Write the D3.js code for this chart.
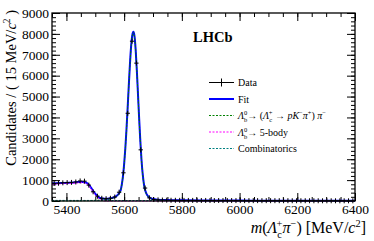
<!DOCTYPE html>
<html>
<head>
<meta charset="utf-8">
<script src="https://cdn.jsdelivr.net/npm/d3@7"></script>
<style>
  body { margin: 0; background: #fff; }
  text { font-family: "Liberation Serif", "Times New Roman", serif; }
</style>
</head>
<body>
<div id="chart"></div>
<script>
// histogram: 70 bins of 15 MeV from 5350 to 6400
const binLow = 5350;
const binWidth = 15;
const dataCounts = [
    840, 850, 870, 880, 890, 910, 960, 950, 760, 440,
    230, 130, 110, 130, 190, 420, 1350, 4200, 7650, 6600,
    2450, 620, 150, 70, 55, 45, 40, 35, 33, 30,
    28, 27, 29, 25, 24, 26, 23, 22, 24, 21,
    20, 22, 19, 20, 18, 19, 17, 18, 16, 17,
    15, 16, 15, 14, 15, 13, 14, 12, 13, 12,
    11, 12, 11, 10, 11, 10, 9, 10, 9, 9
];

// fit curves
const fitMass = [
    5350, 5380, 5410, 5440, 5455, 5465, 5475, 5485, 5495, 5505,
    5512, 5520, 5530, 5540, 5550, 5560, 5570, 5578, 5584, 5588,
    5592, 5596, 5600, 5604, 5608, 5612, 5616, 5620, 5624, 5628,
    5632, 5636, 5640, 5644, 5648, 5652, 5656, 5660, 5664, 5668,
    5672, 5678, 5685, 5695, 5710, 5730, 5760, 5800, 5900, 6000,
    6100, 6200, 6300, 6400
];
const fitTotal = [
    845, 860, 875, 905, 915, 895, 815, 640, 430, 270,
    180, 130, 110, 105, 120, 150, 205, 295, 410, 520,
    800, 1190, 1770, 2500, 3400, 4430, 5500, 6530, 7380, 7920,
    8100, 7880, 7220, 6250, 5110, 3950, 2890, 2000, 1330, 860,
    560, 330, 190, 115, 75, 52, 40, 32, 24, 19,
    16, 13, 11, 10
];
const fitSignal = [
    5, 6, 7, 10, 12, 14, 17, 22, 28, 35,
    40, 55, 70, 80, 96, 127, 183, 273, 388, 498,
    778, 1168, 1748, 2478, 3378, 4408, 5478, 6508, 7358, 7898,
    8078, 7858, 7198, 6228, 5088, 3928, 2868, 1978, 1308, 838,
    538, 309, 169, 94, 55, 33, 22, 15, 8, 5,
    4, 2, 2, 1
];
const bodyMass = [5350, 5380, 5410, 5440, 5455, 5465, 5475, 5485, 5495, 5505, 5512, 5520, 5528, 5535, 6400];
const bodyVal  = [810, 825, 840, 868, 876, 855, 773, 594, 378, 211, 116, 51, 12, 0, 0];
const combMass = [5350, 5500, 5650, 5800, 6000, 6200, 6400];
const combVal  = [30, 26, 22, 17, 14, 11, 9];

const xTicks = [5400, 5600, 5800, 6000, 6200, 6400];
const yTicks = [0, 1000, 2000, 3000, 4000, 5000, 6000, 7000, 8000, 9000];

const legendLabels = [
    [["Data", ""]],
    [["Fit", ""]],
    [["Λ", "i"], ["b", "sub"], ["0", "over"], ["→ (", ""], ["Λ", "i"], ["c", "sub"], ["+", "over"],
     [" → ", ""], ["pK", "i"], ["−", "sup"], ["π", "i"], ["+", "sup"], [") ", ""], ["π", "i"], ["−", "sup"]],
    [["Λ", "i"], ["b", "sub"], ["0", "over"], ["→ 5-body", ""]],
    [["Combinatorics", ""]]
];
const legendColors = ["#000", "#0000ff", "#008000", "#ff00ff", "#008080"];

const width = 374;
const height = 241;
const margin = { top: 13, right: 19, bottom: 40, left: 52 };

const svg = d3.select("#chart")
    .append("svg")
    .attr("width", width)
    .attr("height", height);

const x = d3.scaleLinear()
    .domain([binLow, binLow + binWidth * dataCounts.length])
    .range([margin.left, width - margin.right]);

const y = d3.scaleLinear()
    .domain([0, 9000])
    .range([height - margin.bottom, margin.top]);

// text with ROOT-like sub/superscripts
const richText = (sel, segs, fs) => {
    let shift = 0;
    segs.forEach(([t, kind]) => {
        const small = kind === "sub" || kind === "sup" || kind === "over";
        const target = kind === "sub" ? fs * 0.3 : (kind === "sup" || kind === "over") ? -fs * 0.4 : 0;
        const ts = sel.append("tspan")
            .attr("dy", target - shift)
            .attr("font-size", small ? fs * 0.65 : fs)
            .attr("font-style", kind === "i" ? "italic" : "normal")
            .text(t);
        if (kind === "over") ts.attr("dx", -fs * 0.33);
        shift = target;
    });
};

const styleAxis = (g, labels) => {
    g.select(".domain").remove();
    g.selectAll("line").attr("stroke", "#000").attr("stroke-width", 1);
    g.selectAll("text")
        .attr("font-size", 13.5)
        .attr("fill", "#000")
        .style("display", labels ? null : "none");
};

const xMinor = d3.range(5350, 6401, 50);
const yMinor = d3.range(0, 9001, 200);
const bottomY = height - margin.bottom;
const rightX = width - margin.right;

// minor ticks
svg.append("g").attr("transform", `translate(0,${bottomY})`)
    .call(d3.axisBottom(x).tickValues(xMinor).tickSize(-4).tickFormat(""))
    .call(g => styleAxis(g, false));
svg.append("g").attr("transform", `translate(0,${margin.top})`)
    .call(d3.axisTop(x).tickValues(xMinor).tickSize(-4).tickFormat(""))
    .call(g => styleAxis(g, false));
svg.append("g").attr("transform", `translate(${margin.left},0)`)
    .call(d3.axisLeft(y).tickValues(yMinor).tickSize(-4).tickFormat(""))
    .call(g => styleAxis(g, false));
svg.append("g").attr("transform", `translate(${rightX},0)`)
    .call(d3.axisRight(y).tickValues(yMinor).tickSize(-4).tickFormat(""))
    .call(g => styleAxis(g, false));

// major ticks
svg.append("g").attr("transform", `translate(0,${bottomY})`)
    .call(d3.axisBottom(x).tickValues(xTicks).tickSize(-8).tickPadding(3).tickFormat(d3.format("d")))
    .call(g => styleAxis(g, true));
svg.append("g").attr("transform", `translate(0,${margin.top})`)
    .call(d3.axisTop(x).tickValues(xTicks).tickSize(-8).tickFormat(""))
    .call(g => styleAxis(g, false));
svg.append("g").attr("transform", `translate(${margin.left},0)`)
    .call(d3.axisLeft(y).tickValues(yTicks).tickSize(-8).tickPadding(3).tickFormat(d3.format("d")))
    .call(g => styleAxis(g, true));
svg.append("g").attr("transform", `translate(${rightX},0)`)
    .call(d3.axisRight(y).tickValues(yTicks).tickSize(-8).tickFormat(""))
    .call(g => styleAxis(g, false));

// curves
const plot = svg.append("g");
const curve = (xs, ys, color, w, dash) => {
    const line = d3.line()
        .x(d => x(d[0]))
        .y(d => y(d[1]))
        .curve(d3.curveMonotoneX);
    plot.append("path")
        .attr("d", line(d3.zip(xs, ys)))
        .attr("fill", "none")
        .attr("stroke", color)
        .attr("stroke-width", w)
        .attr("stroke-dasharray", dash);
};
curve(fitMass, fitTotal, legendColors[1], 2, null);
curve(fitMass, fitSignal, legendColors[2], 1, "2,1.5");
curve(bodyMass, bodyVal, legendColors[3], 1, "2,1.5");
curve(combMass, combVal, legendColors[4], 1, "2,1.5");

// data points
const bins = dataCounts.map((c, i) => ({ lo: binLow + i * binWidth, hi: binLow + (i + 1) * binWidth, c }));
const pts = plot.selectAll(".pt").data(bins).enter().append("g").attr("class", "pt");
pts.append("line")
    .attr("x1", d => x(d.lo)).attr("x2", d => x(d.hi))
    .attr("y1", d => y(d.c)).attr("y2", d => y(d.c))
    .attr("stroke", "#000").attr("stroke-width", 1);
pts.append("line")
    .attr("x1", d => x((d.lo + d.hi) / 2)).attr("x2", d => x((d.lo + d.hi) / 2))
    .attr("y1", d => Math.min(y(d.c + Math.sqrt(d.c)), y(d.c) - 2.5))
    .attr("y2", d => Math.max(y(d.c - Math.sqrt(d.c)), y(d.c) + 2.5))
    .attr("stroke", "#000").attr("stroke-width", 1);

// frame
svg.append("rect")
    .attr("x", margin.left).attr("y", margin.top)
    .attr("width", rightX - margin.left).attr("height", bottomY - margin.top)
    .attr("fill", "none").attr("stroke", "#000").attr("stroke-width", 1.3);

// LHCb label
svg.append("text")
    .attr("x", 193).attr("y", 42)
    .attr("font-size", 14.5).attr("font-weight", "bold")
    .text("LHCb");

// legend
const legendX = 209;
const legendRows = [82.5, 99, 115.5, 132, 148.5];
const lg = svg.append("g");
legendLabels.forEach((segs, i) => {
    const ly = legendRows[i];
    const row = lg.append("g");
    if (i === 0) {
        row.append("line").attr("x1", legendX).attr("x2", legendX + 25).attr("y1", ly).attr("y2", ly)
            .attr("stroke", "#000");
        row.append("line").attr("x1", legendX + 12.5).attr("x2", legendX + 12.5).attr("y1", ly - 4).attr("y2", ly + 4)
            .attr("stroke", "#000");
    } else {
        row.append("line").attr("x1", legendX).attr("x2", legendX + 25).attr("y1", ly).attr("y2", ly)
            .attr("stroke", legendColors[i])
            .attr("stroke-width", i === 1 ? 2 : 1)
            .attr("stroke-dasharray", i === 1 ? null : "2,1.5");
    }
    const t = row.append("text").attr("x", legendX + 29).attr("y", ly + 3.5).attr("font-size", 10);
    richText(t, segs, 10);
});

// axis titles
const xt = svg.append("text")
    .attr("x", 366).attr("y", 233)
    .attr("text-anchor", "end");
richText(xt, [["m", "i"], ["(", ""], ["Λ", "i"], ["c", "sub"], ["+", "over"], ["π", "i"], ["−", "sup"],
    [") [MeV/", ""], ["c", "i"], ["2", "sup"], ["]", ""]], 16);

const yt = svg.append("text")
    .attr("transform", "translate(16,10) rotate(-90)")
    .attr("text-anchor", "end");
richText(yt, [["Candidates / ( 15 MeV/", ""], ["c", "i"], ["2", "sup"], [" )", ""]], 14.5);
</script>
</body>
</html>
